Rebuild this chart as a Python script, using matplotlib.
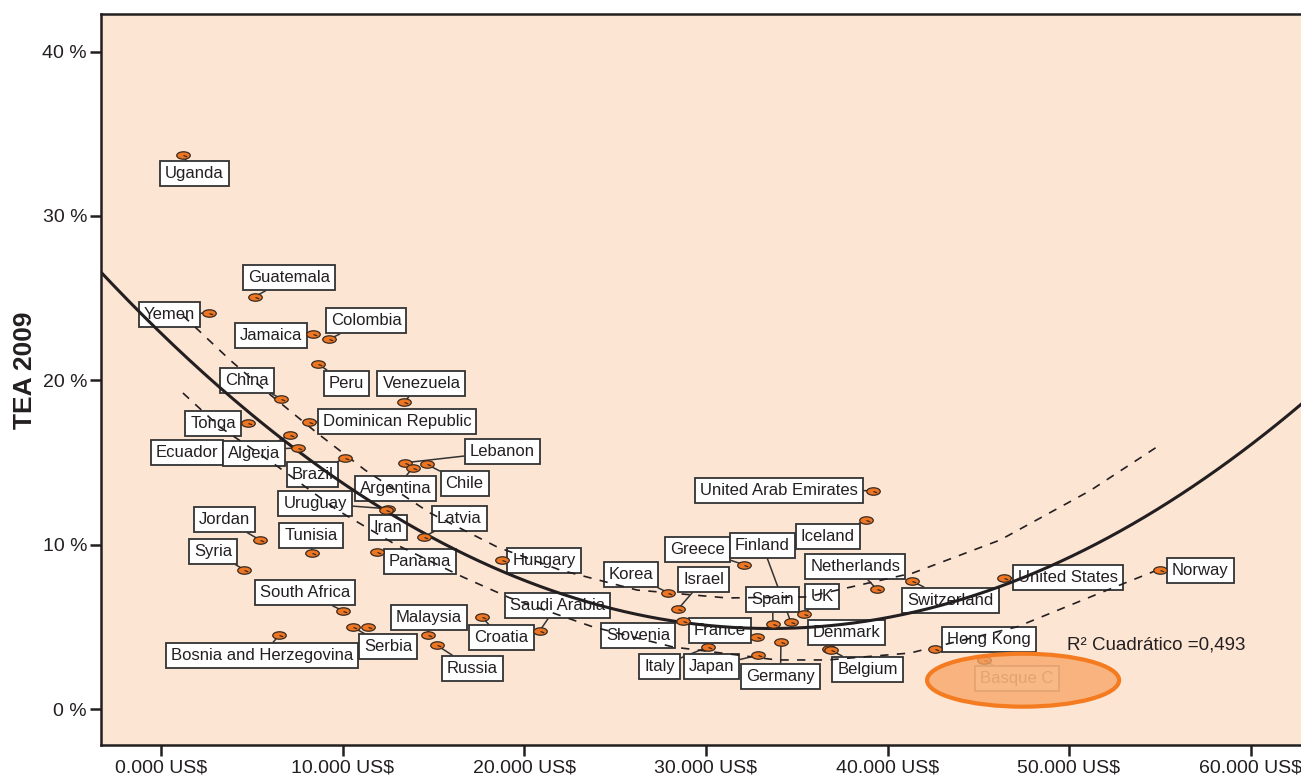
import numpy as np
import matplotlib
matplotlib.use("Agg")
import matplotlib.pyplot as plt
from matplotlib.path import Path
from matplotlib.patches import Ellipse

plt.rcParams['font.family'] = ['Liberation Sans', 'DejaVu Sans']

# ---------------- data ----------------
countries = [
    "Uganda", "Guatemala", "Yemen", "Jamaica", "Colombia", "Peru", "China",
    "Venezuela", "Dominican Republic", "Tonga", "Ecuador", "Algeria", "Brazil",
    "Lebanon", "Argentina", "Chile", "Uruguay", "Iran", "Latvia", "Jordan",
    "Tunisia", "Panama", "Syria", "Hungary", "South Africa", "Serbia", "",
    "Bosnia and Herzegovina", "Malaysia", "Russia", "Croatia", "Saudi Arabia",
    "Korea", "Greece", "Israel", "Slovenia", "France", "Italy", "Japan",
    "Germany", "Finland", "Spain", "UK", "Denmark", "Belgium", "Iceland",
    "United Arab Emirates", "Netherlands", "Switzerland", "United States",
    "Norway", "Hong Kong", "Basque C",
]
gdp_ppp = [
    1180, 5150, 2620, 8350, 9230, 8620, 6580,
    13360, 8130, 4770, 7520, 7080, 10110,
    13420, 13860, 14630, 12480, 12370, 14460, 5430,
    8290, 11870, 4550, 18760, 10000, 10550, 11380,
    6470, 14680, 15180, 17660, 20850,
    27910, 32090, 28460, 28730, 32810, 30110, 32870,
    34130, 34680, 33690, 35400, 36780, 36890, 38820,
    39200, 39420, 41350, 46420,
    55010, 42620, 45320,
]
tea_2009 = [
    33.7, 25.1, 24.1, 22.8, 22.5, 21.0, 18.9,
    18.7, 17.5, 17.4, 15.9, 16.7, 15.3,
    15.0, 14.7, 14.9, 12.2, 12.1, 10.5, 10.3,
    9.5, 9.6, 8.5, 9.1, 6.0, 5.0, 5.0,
    4.5, 4.5, 3.9, 5.6, 4.8,
    7.1, 8.8, 6.1, 5.4, 4.4, 3.8, 3.3,
    4.1, 5.3, 5.2, 5.8, 3.7, 3.6, 11.5,
    13.3, 7.3, 7.8, 8.0,
    8.5, 3.7, 3.0,
]
# dashed band lines
band_upper_gdp = [1180, 1850, 3770, 5810, 8570, 11210, 14790, 18490, 21960,
                  26200, 31160, 35560, 41410, 46200, 51160, 55010]
band_upper_tea = [23.95, 23.25, 21.25, 19.30, 16.81, 14.56, 11.95, 9.88, 8.48,
                  7.26, 6.78, 6.84, 8.30, 10.30, 13.30, 16.08]
band_lower_gdp = [1180, 3220, 6140, 9670, 12750, 16610, 19200, 23770, 28180,
                  33910, 36670, 41240, 47130, 51710, 55010]
band_lower_tea = [19.24, 17.17, 14.98, 12.13, 10.12, 8.05, 6.78, 5.02, 3.80,
                  3.01, 3.01, 3.43, 5.02, 7.08, 8.54]

x_ticks = [0, 10000, 20000, 30000, 40000, 50000, 60000]
x_tick_labels = ["0.000 US$", "10.000 US$", "20.000 US$", "30.000 US$",
                 "40.000 US$", "50.000 US$", "60.000 US$"]
y_ticks = [0, 10, 20, 30, 40]
y_tick_labels = ["0 %", "10 %", "20 %", "30 %", "40 %"]
y_title = "TEA 2009"
r2_text = "R² Cuadrático =0,493"
highlight = "Basque C"

# ---------------- layout (label box offsets from point, in pixels; y down) ----
label_offsets = {
    "Uganda": (11.5, 18.5), "Guatemala": (34.5, -19), "Yemen": (-39.5, 1),
    "Jamaica": (-42, 1), "Colombia": (37, -18.5), "Peru": (28.5, 19),
    "China": (-34, -18), "Venezuela": (17.5, -18),
    "Dominican Republic": (88, -0.5), "Tonga": (-35, 0),
    "Ecuador": (-111, 5), "Algeria": (-36, 19), "Brazil": (-32.5, 17),
    "Lebanon": (97, -11), "Argentina": (-17.5, 20.5), "Chile": (37.5, 19.5),
    "Uruguay": (-73, -5.5), "Iran": (2, 17.5), "Latvia": (35.5, -18.5),
    "Jordan": (-35.5, -20.5), "Tunisia": (-1, -18), "Panama": (43, 10),
    "Syria": (-31, -18), "Hungary": (42, 0.5), "South Africa": (-38, -18),
    "Serbia": (35, 19.5), "Bosnia and Herzegovina": (-17, 20),
    "Malaysia": (1, -18), "Russia": (35.5, 23), "Croatia": (19.5, 20.5),
    "Saudi Arabia": (17.5, -25.5), "Korea": (-37, -18),
    "Greece": (-46.5, -15.5), "Israel": (25.5, -29.5), "Slovenia": (-45, 15),
    "France": (-37.5, -7), "Italy": (-48.5, 19.5), "Japan": (-46.5, 11),
    "Germany": (-0.5, 34), "Finland": (-28.5, -77), "Spain": (-0.5, -24),
    "UK": (18, -17.5), "Denmark": (17.5, -16), "Belgium": (36.5, 19),
    "Iceland": (-38.5, 16), "United Arab Emirates": (-94, -0.5),
    "Netherlands": (-21.5, -22.5), "Switzerland": (38.5, 19),
    "United States": (64, 0), "Norway": (40.5, 0.5), "Hong Kong": (54, -9),
    "Basque C": (33, 18),
}

ink = "#231F20"
peach = "#FDE5D4"
orange = "#EE7623"

fig = plt.figure(figsize=(13.01, 7.78), dpi=100)
ax = fig.add_axes([101 / 1301, 33 / 778, 1200 / 1301, 731 / 778])
ax.set_facecolor(peach)
ax.set_xlim(-3333, 62782)
ax.set_ylim(-2.16, 42.28)

for side in ("top", "left", "bottom"):
    ax.spines[side].set_color(ink)
    ax.spines[side].set_linewidth(1.8)
ax.spines["right"].set_visible(False)

ax.set_xticks(x_ticks)
ax.set_xticklabels(x_tick_labels, fontsize=14, color=ink)
ax.set_yticks(y_ticks)
ax.set_yticklabels(y_tick_labels, fontsize=14, color=ink)
ax.tick_params(axis="both", direction="out", length=8, width=1.8, color=ink)
ax.tick_params(axis="x", pad=2.5)
ax.tick_params(axis="y", pad=2)

fig.text(25 / 1301, 1 - 370 / 778, y_title, rotation=90, ha="center",
         va="center", fontsize=19, fontweight="bold", color=ink)

# ---------------- quadratic fit ----------------
xk = np.array(gdp_ppp, dtype=float) / 1000.0
yv = np.array(tea_2009, dtype=float)
coef = np.polyfit(xk, yv, 2)
xg = np.linspace(-3.5, 63.0, 400)
ax.plot(xg * 1000, np.polyval(coef, xg), color=ink, lw=2.2, zorder=4)

ax.plot(band_upper_gdp, band_upper_tea, color=ink, lw=1.2, dashes=(5, 5),
        zorder=4)
ax.plot(band_lower_gdp, band_lower_tea, color=ink, lw=1.2, dashes=(5, 5),
        zorder=4)

# ---------------- labels ----------------
for name, gx, ty in zip(countries, gdp_ppp, tea_2009):
    if not name:
        continue
    dx, dy = label_offsets[name]
    faded = name == highlight
    ax.annotate(
        name, xy=(gx, ty), xytext=(dx, -dy), textcoords="offset pixels",
        ha="center", va="center", fontsize=12,
        color="#9a9a9a" if faded else ink,
        bbox=dict(boxstyle="square,pad=0.3", fc="white",
                  ec="#a0a0a0" if faded else "#333333", lw=1.3),
        arrowprops=dict(arrowstyle="-", color="#a0a0a0" if faded else "#333333",
                        lw=1.1, shrinkA=0, shrinkB=2),
        zorder=3,
    )

# ---------------- points ----------------
circ = Path.unit_circle()
ell = Path(circ.vertices * np.array([1.0, 0.55]), circ.codes)
tick = Path([(0.0, 0.0), (0.55, -0.2)], [Path.MOVETO, Path.LINETO])
marker = Path.make_compound_path(ell, tick)
ax.scatter(gdp_ppp, tea_2009, marker=marker, s=95, facecolor=orange,
           edgecolor="#3a2a1e", linewidth=0.9, zorder=5)

# ---------------- highlight ellipse ----------------
hi = countries.index(highlight)
ax.add_patch(Ellipse((gdp_ppp[hi] + 2150, tea_2009[hi] - 1.22), 10580, 3.22,
                     facecolor=(0.97, 0.65, 0.40, 0.78), edgecolor="#F47B20",
                     lw=3, zorder=7))

ax.text(49890, 3.92, r2_text, ha="left", va="center", fontsize=13.5,
        color=ink, zorder=6)

fig.savefig("out.png", dpi=100, facecolor="white")
